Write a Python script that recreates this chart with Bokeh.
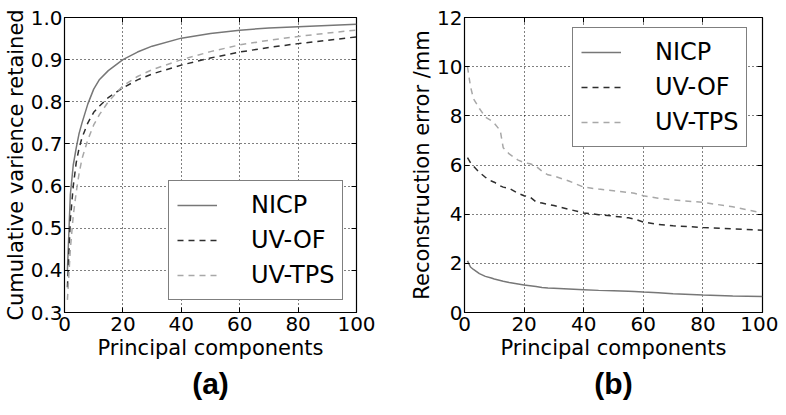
from bokeh.plotting import figure
from bokeh.layouts import row
from bokeh.models import (Legend, LegendItem, Title, LinearAxis, FixedTicker, Range1d,
                          PrintfTickFormatter)
from bokeh.embed import file_html
from bokeh.resources import INLINE

# ---- Panel (a): cumulative variance retained ----
pc_a = [1, 2, 3, 4, 5, 6, 8, 10, 12, 15, 20, 25, 30, 40, 50, 60, 70, 80, 90, 100]
var_nicp = [0.40, 0.58, 0.65, 0.69, 0.725, 0.75, 0.795, 0.83, 0.853, 0.874, 0.90, 0.918,
            0.932, 0.951, 0.962, 0.970, 0.975, 0.978, 0.981, 0.984]
var_uvof = [0.36, 0.52, 0.60, 0.655, 0.69, 0.715, 0.75, 0.775, 0.79, 0.81, 0.833, 0.852,
            0.866, 0.887, 0.904, 0.918, 0.929, 0.938, 0.946, 0.954]
var_uvtps = [0.33, 0.45, 0.53, 0.585, 0.63, 0.665, 0.71, 0.745, 0.77, 0.80, 0.838, 0.86,
             0.876, 0.90, 0.919, 0.935, 0.946, 0.955, 0.963, 0.970]

# ---- Panel (b): reconstruction error ----
pc_b = [1, 2, 3, 5, 7, 9, 10, 12, 13, 15, 18, 20, 22, 24, 26, 28, 30, 35, 40, 45, 50,
        55, 57, 60, 65, 70, 80, 90, 100]
err_nicp = [2.1, 1.85, 1.75, 1.58, 1.47, 1.4, 1.36, 1.3, 1.27, 1.22, 1.16, 1.12, 1.09,
            1.06, 1.02, 1.0, 0.99, 0.96, 0.93, 0.9, 0.88, 0.86, 0.85, 0.83, 0.8, 0.76,
            0.71, 0.67, 0.65]
err_uvof = [6.3, 6.1, 5.95, 5.7, 5.5, 5.35, 5.3, 5.15, 5.1, 5.05, 4.85, 4.75, 4.7, 4.5,
            4.45, 4.4, 4.35, 4.2, 4.05, 3.98, 3.92, 3.85, 3.8, 3.68, 3.58, 3.53, 3.46,
            3.4, 3.35]
err_uvtps = [10.0, 9.2, 8.7, 8.3, 7.95, 7.8, 7.7, 7.4, 6.7, 6.45, 6.2, 6.1, 6.05, 5.95,
             5.75, 5.6, 5.55, 5.35, 5.1, 5.02, 4.95, 4.88, 4.85, 4.75, 4.65, 4.58, 4.48,
             4.3, 4.05]

series_names = ["NICP", "UV-OF", "UV-TPS"]
x_ticks = [0, 20, 40, 60, 80, 100]
y_ticks_a = [0.3, 0.4, 0.5, 0.6, 0.7, 0.8, 0.9, 1.0]
y_ticks_b = [0, 2, 4, 6, 8, 10, 12]

colors = ["#777777", "#2e2e2e", "#a8a8a8"]
dashes = ["solid", "6 5", "6 5"]
FONT = "DejaVu Sans"


def make_panel(xs, ys_list, ticks_y, yfmt, yrange, ylabel, tag, w, h, borders, legend_loc):
    bl, br, bt, bb = borders
    p = figure(width=w, height=h, x_range=Range1d(0, 100),
               y_range=Range1d(*yrange), output_backend="svg", toolbar_location=None,
               min_border_left=bl, min_border_right=br, min_border_top=bt,
               min_border_bottom=bb)
    p.background_fill_color = "white"
    p.border_fill_color = "white"
    p.outline_line_color = "black"
    p.outline_line_width = 1.2
    p.xaxis.ticker = FixedTicker(ticks=x_ticks)
    p.yaxis.ticker = FixedTicker(ticks=ticks_y)
    p.yaxis.formatter = PrintfTickFormatter(format=yfmt)
    p.xaxis.axis_label = "Principal components"
    p.yaxis.axis_label = ylabel
    for ax in (p.xaxis, p.yaxis):
        ax.axis_line_color = "black"
        ax.major_tick_in = 5
        ax.major_tick_out = 0
        ax.minor_tick_line_color = None
        ax.major_label_text_font = FONT
        ax.major_label_text_font_size = "20px"
        ax.major_label_text_color = "black"
        ax.axis_label_text_font = FONT
        ax.axis_label_text_font_size = "21px"
        ax.axis_label_text_font_style = "normal"
        ax.axis_label_text_color = "black"
    p.xaxis.major_label_standoff = 4
    p.yaxis.major_label_standoff = 2
    p.xaxis.axis_label_standoff = 2
    p.yaxis.axis_label_standoff = 0
    for ax in (p.xgrid, p.ygrid):
        ax.grid_line_color = "black"
        ax.grid_line_dash = "1 3"
        ax.grid_line_width = 1
    p.xgrid.ticker = FixedTicker(ticks=x_ticks)
    p.ygrid.ticker = FixedTicker(ticks=ticks_y)

    # inward ticks on top and right edges
    top = LinearAxis(ticker=FixedTicker(ticks=x_ticks), major_label_text_font_size="0px",
                     major_tick_in=5, major_tick_out=0, minor_tick_line_color=None,
                     axis_line_color=None, major_label_standoff=0)
    right = LinearAxis(ticker=FixedTicker(ticks=ticks_y), major_label_text_font_size="0px",
                       major_tick_in=5, major_tick_out=0, minor_tick_line_color=None,
                       axis_line_color=None, major_label_standoff=0)
    p.add_layout(top, "above")
    p.add_layout(right, "right")

    items = []
    for name, ys, c, d in zip(series_names, ys_list, colors, dashes):
        r = p.line(xs, ys, line_color=c, line_width=1.5, line_dash=d)
        items.append(LegendItem(label=name, renderers=[r]))
    leg = Legend(items=items, location=legend_loc, label_text_font=FONT,
                 label_text_font_size="24px", label_text_color="black",
                 glyph_width=40, glyph_height=32, label_height=32, label_standoff=34,
                 spacing=3, padding=8, margin=0, border_line_color="black",
                 border_line_width=1.2, background_fill_color="white",
                 background_fill_alpha=1.0)
    p.add_layout(leg, "center")

    p.add_layout(Title(text=tag, align="center", text_font="Liberation Sans",
                       text_font_size="30px", text_font_style="bold",
                       text_color="black", standoff=4), "below")
    return p


pa = make_panel(pc_a, [var_nicp, var_uvof, var_uvtps], y_ticks_a, "%.1f", (0.3, 1.0),
                "Cumulative varience retained", "(a)", 390, 405, (63, 34, 17, 92), (104, 12))
pb = make_panel(pc_b, [err_nicp, err_uvof, err_uvtps], y_ticks_b, "%d", (0, 12),
                "Reconstruction error /mm", "(b)", 388, 405, (74, 16, 17, 93), (108, 165))

layout = row(pa, pb)
open("out.html", "w").write(file_html(layout, INLINE))
